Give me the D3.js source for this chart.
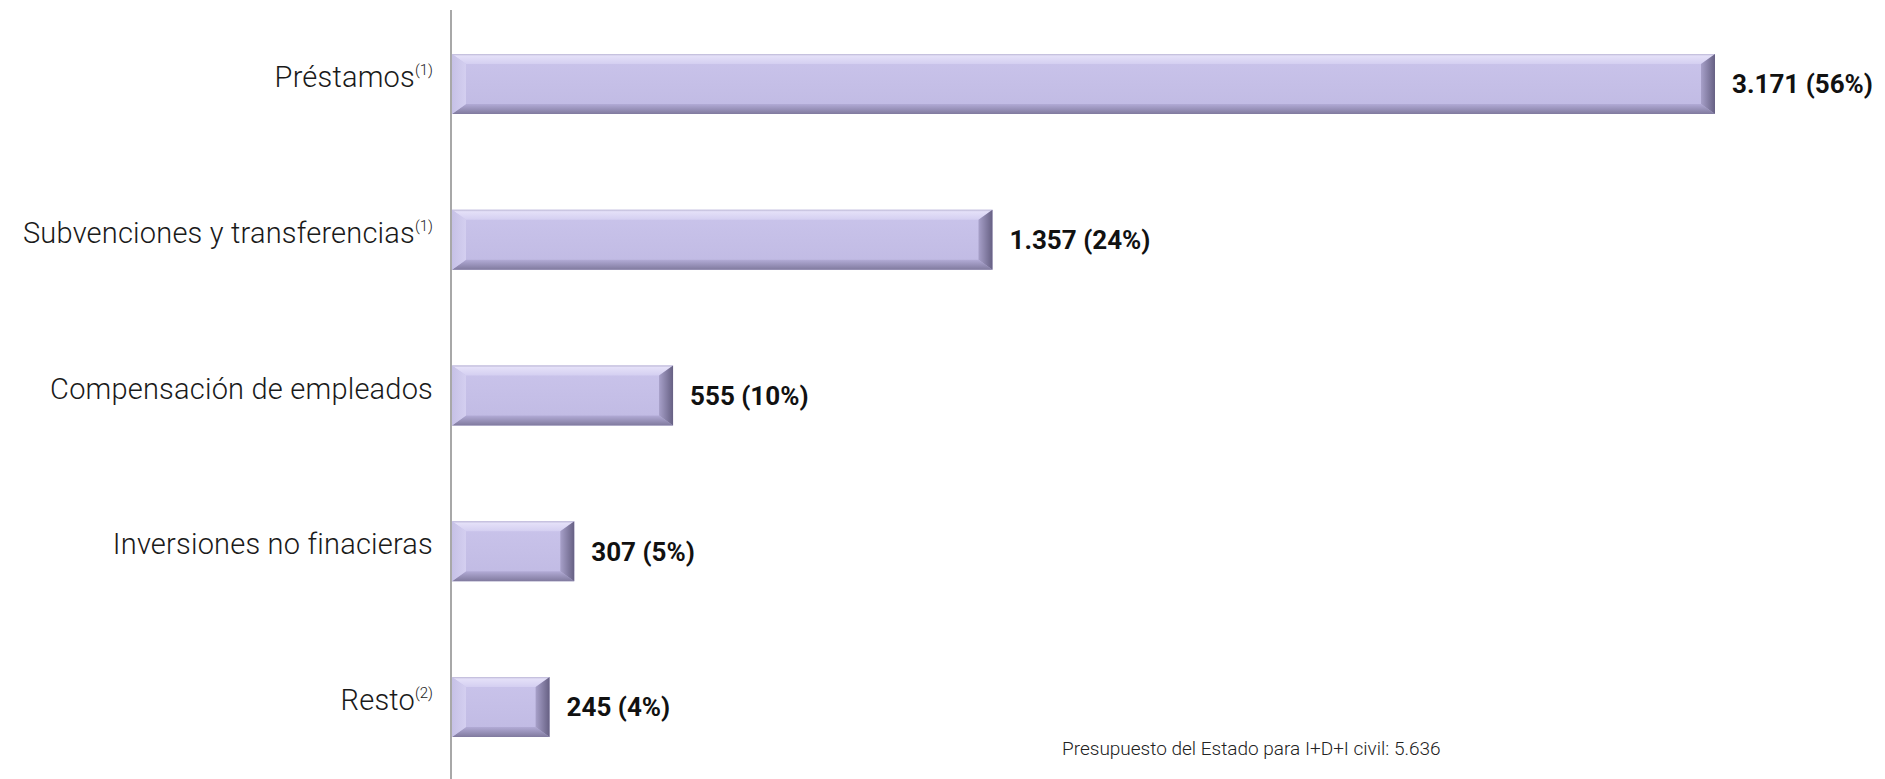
<!DOCTYPE html>
<html>
<head>
<meta charset="utf-8">
<script src="https://cdn.jsdelivr.net/npm/d3@7/dist/d3.min.js"></script>
<style>
  body { margin: 0; background: #fff; }
  svg { display: block; }
</style>
</head>
<body>
<div id="chart"></div>
<script>
// data
var categories = ["Préstamos", "Subvenciones y transferencias", "Compensación de empleados", "Inversiones no finacieras", "Resto"];
var notes = ["(1)", "(1)", "", "", "(2)"];
var values = [3171, 1357, 555, 307, 245];
var shares = [56, 24, 10, 5, 4];
var footnote = "Presupuesto del Estado para I+D+I civil: 5.636";

var width = 1885, height = 779;
var axis_x = 452;
var bar_h = 60;
var bevel_x = 14, bevel_y = 10;

var es = d3.formatLocale({decimal: ",", thousands: ".", grouping: [3], currency: ["", ""]});
var fmt = es.format(",d");

var rows = categories.map(function(c, i) {
  return {name: c, note: notes[i], value: values[i], share: shares[i]};
});

var x = d3.scaleLinear()
  .domain([0, d3.max(values)])
  .range([axis_x, 1715]);

var y = d3.scalePoint()
  .domain(categories)
  .range([84, 707]);

var svg = d3.select('#chart')
  .append('svg')
  .attr('width', width)
  .attr('height', height);

//gradients for the bevel
var defs = svg.append('defs');
function grad(id, x2, y2, stops) {
  var g = defs.append('linearGradient').attr('id', id)
    .attr('x1', 0).attr('y1', 0).attr('x2', x2).attr('y2', y2);
  stops.forEach(function(s) {
    g.append('stop').attr('offset', s[0]).attr('stop-color', s[1]);
  });
}
grad('face', 0, 1, [[0, '#cac4eb'], [1, '#c0bae3']]);
grad('top', 0, 1, [[0, '#bcb7d6'], [0.2, '#e4e0f8'], [1, '#d4cff1']]);
grad('bottom', 0, 1, [[0, '#b2abd6'], [1, '#807a9e']]);
grad('left', 1, 0, [[0, '#c6c1e6'], [1, '#d4cff0']]);
grad('right', 1, 0, [[0, '#a7a0c9'], [1, '#666083']]);

var bars = svg.selectAll('g.bar')
  .data(rows)
  .enter()
  .append('g')
  .attr('class', 'bar')
  .attr('transform', function(d) { return 'translate(0,' + (y(d.name) - bar_h / 2) + ')'; });

bars.append('rect')
  .attr('x', x(0))
  .attr('y', 0)
  .attr('width', function(d) { return x(d.value) - x(0); })
  .attr('height', bar_h)
  .attr('fill', 'url(#face)');

// top, bottom, left, right bevels
bars.append('polygon')
  .attr('fill', 'url(#top)')
  .attr('points', function(d) {
    var x0 = x(0), x1 = x(d.value);
    return [[x0, 0], [x1, 0], [x1 - bevel_x, bevel_y], [x0 + bevel_x, bevel_y]].join(' ');
  });
bars.append('polygon')
  .attr('fill', 'url(#bottom)')
  .attr('points', function(d) {
    var x0 = x(0), x1 = x(d.value);
    return [[x0 + bevel_x, bar_h - bevel_y], [x1 - bevel_x, bar_h - bevel_y], [x1, bar_h], [x0, bar_h]].join(' ');
  });
bars.append('polygon')
  .attr('fill', 'url(#left)')
  .attr('points', function(d) {
    var x0 = x(0);
    return [[x0, 0], [x0 + bevel_x, bevel_y], [x0 + bevel_x, bar_h - bevel_y], [x0, bar_h]].join(' ');
  });
bars.append('polygon')
  .attr('fill', 'url(#right)')
  .attr('points', function(d) {
    var x1 = x(d.value);
    return [[x1, 0], [x1, bar_h], [x1 - bevel_x, bar_h - bevel_y], [x1 - bevel_x, bevel_y]].join(' ');
  });

//value labels
bars.append('text')
  .attr('x', function(d) { return x(d.value) + 17; })
  .attr('y', bar_h / 2)
  .attr('dy', '0.36em')
  .style('font-family', 'Roboto, sans-serif')
  .style('font-weight', 700)
  .style('font-size', '26px')
  .attr('fill', '#111')
  .text(function(d) { return fmt(d.value) + ' (' + d.share + '%)'; });

//category labels
var labels = svg.selectAll('text.cat')
  .data(rows)
  .enter()
  .append('text')
  .attr('class', 'cat')
  .attr('x', 433)
  .attr('y', function(d) { return y(d.name) + 3; })
  .attr('text-anchor', 'end')
  .style('font-family', 'Roboto, sans-serif')
  .style('font-weight', 300)
  .style('font-size', '29px')
  .style('letter-spacing', '0.2px')
  .attr('fill', '#1a1a1a');
labels.append('tspan').text(function(d) { return d.name; });
labels.append('tspan')
  .attr('dy', -12)
  .style('font-size', '15px')
  .style('letter-spacing', '0px')
  .text(function(d) { return d.note; });

//axis line
svg.append('line')
  .attr('x1', axis_x - 1).attr('x2', axis_x - 1)
  .attr('y1', 10).attr('y2', height)
  .attr('stroke', '#a8a8a8')
  .attr('stroke-width', 2);

svg.append('text')
  .attr('x', 1062)
  .attr('y', 755)
  .style('font-family', 'Roboto, sans-serif')
  .style('font-weight', 300)
  .style('font-size', '19px')
  .attr('fill', '#222')
  .text(footnote);
</script>
</body>
</html>
